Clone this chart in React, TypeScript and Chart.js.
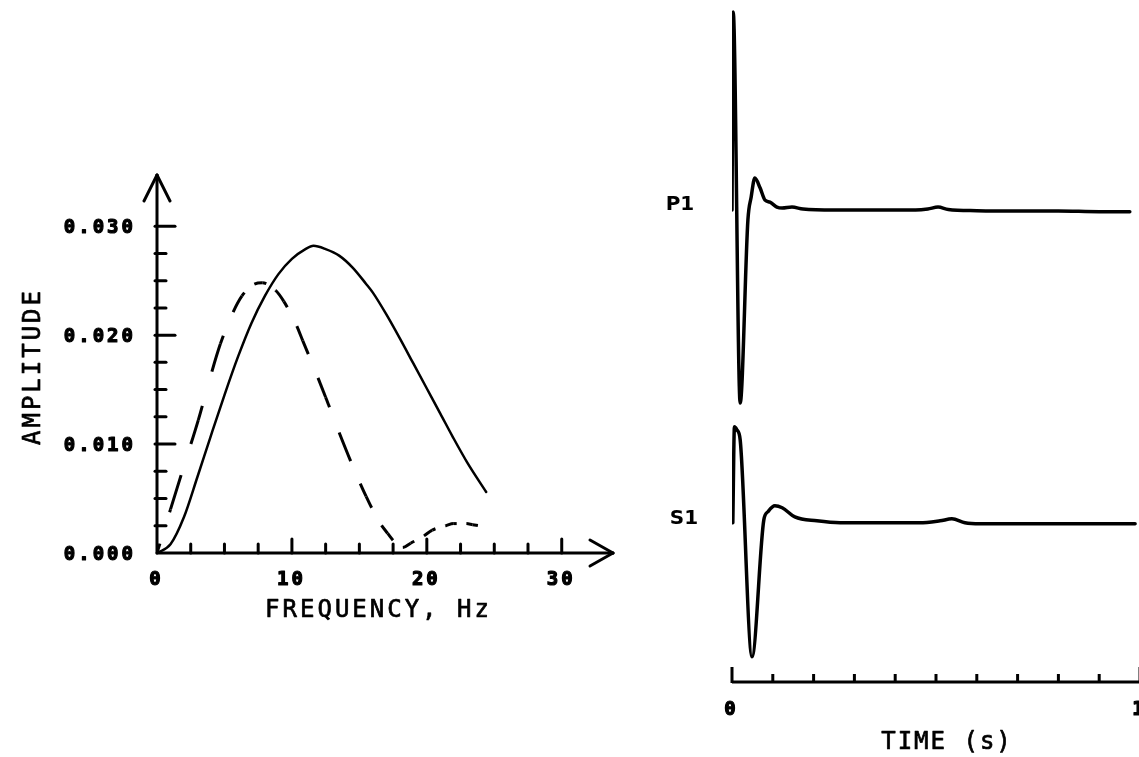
import React, { useEffect, useRef } from "react";
import { Chart, registerables } from "chart.js";

Chart.register(...registerables);

// ---- Spectrum panel: amplitude vs frequency ----
const solidFreq = [0, 1, 2, 3, 3.95, 5, 6, 7, 8, 9, 10, 11, 11.6, 12.5, 13.5, 14.5, 15.5, 16, 17, 18, 19, 20, 21, 21.95, 23, 24.4];
const solidAmp = [0, 0.0008, 0.0033, 0.007, 0.0106, 0.0145, 0.018, 0.0211, 0.0236, 0.0256, 0.027, 0.0279, 0.0282, 0.0279, 0.0273, 0.0262, 0.0247, 0.0239, 0.0219, 0.0197, 0.0174, 0.0151, 0.0128, 0.0106, 0.0083, 0.0056];

const dashFreq = [0, 1, 2, 3.06, 3.87, 4.7, 5.6, 6.3, 7.1, 7.8, 8.8, 9.4, 10.3, 10.8, 11.7, 12.5, 13.3, 14.5, 15.5, 16.5, 17.1, 17.7, 18.2, 18.8, 19.7, 20.4, 21.4, 22, 22.9, 23.4, 24.4];
const dashAmp = [0, 0.004, 0.008, 0.0122, 0.0158, 0.0192, 0.022, 0.0236, 0.0246, 0.0248, 0.0241, 0.0231, 0.021, 0.0195, 0.0168, 0.0143, 0.0117, 0.008, 0.0052, 0.0028, 0.0018, 0.0009, 0.0005, 0.0009, 0.0015, 0.0021, 0.0025, 0.0027, 0.0027, 0.0026, 0.0024];

const freqTicks = [0, 10, 20, 30];
const ampTicks = [0, 0.01, 0.02, 0.03];
const freqMinorStep = 2.5;
const ampMinorStep = 0.0025;

// ---- Trace panel: normalized amplitude vs time ----
const p1Time = [0, 0.003, 0.02, 0.039, 0.047, 0.056, 0.069, 0.081, 0.093, 0.11, 0.123, 0.147, 0.174, 0.25, 0.35, 0.45, 0.48, 0.505, 0.53, 0.6, 0.7, 0.8, 0.9, 0.975];
const p1Amp = [0, 1.0, -0.975, -0.05, 0.066, 0.162, 0.111, 0.05, 0.04, 0.015, 0.01, 0.015, 0.005, 0, 0, 0, 0.005, 0.015, 0.003, -0.003, -0.005, -0.005, -0.008, -0.008];

const s1Time = [0.002, 0.006, 0.012, 0.02, 0.049, 0.078, 0.088, 0.105, 0.123, 0.154, 0.208, 0.265, 0.46, 0.51, 0.539, 0.571, 0.608, 0.8, 0.988];
const s1Amp = [0, 0.485, 0.47, 0.42, -0.677, 0.015, 0.056, 0.086, 0.076, 0.03, 0.01, 0, 0, 0.01, 0.02, 0, -0.005, -0.005, -0.005];

const traceNames = ["P1", "S1"];
const traceOffsets = [0, -1.58];
const timeTicks = [0, 1];
const timeMinorStep = 0.1;

const MONO = '"DejaVu Sans Mono", "Liberation Mono", monospace';
const SANS = '"DejaVu Sans", "Liberation Sans", sans-serif';

// Plotter-style dashing: dashes repeat at a fixed horizontal pitch (px)
const DASH_ON = 11.5;
const DASH_PITCH = 21.2;

function drawText(
  ctx: CanvasRenderingContext2D,
  text: string,
  x: number,
  y: number,
  size: number,
  weight: string,
  family: string,
  spacing: number,
  align: "left" | "center" | "right",
  rotate = 0,
  thicken = 0
) {
  ctx.save();
  ctx.font = `${weight} ${size}px ${family}`;
  (ctx as any).letterSpacing = `${spacing}px`;
  ctx.textAlign = "left";
  ctx.textBaseline = "alphabetic";
  ctx.fillStyle = "#000";
  ctx.strokeStyle = "#000";
  const w = ctx.measureText(text).width - spacing;
  ctx.translate(x, y);
  if (rotate) ctx.rotate(rotate);
  const sx = align === "center" ? -w / 2 : align === "right" ? -w : 0;
  ctx.fillText(text, sx, size * 0.365);
  if (thicken > 0) {
    ctx.lineWidth = thicken;
    ctx.lineJoin = "round";
    ctx.strokeText(text, sx, size * 0.365);
  }
  ctx.restore();
}

function seg(ctx: CanvasRenderingContext2D, x1: number, y1: number, x2: number, y2: number) {
  ctx.beginPath();
  ctx.moveTo(x1, y1);
  ctx.lineTo(x2, y2);
  ctx.stroke();
}

const spectrumAxes = {
  id: "spectrumAxes",
  afterDatasetsDraw(chart: any) {
    const { ctx, scales } = chart;
    const x = scales.x;
    const y = scales.y;
    const x0 = x.getPixelForValue(0);
    const y0 = y.getPixelForValue(0);
    const xEnd = x.getPixelForValue(x.max);
    const yTop = y.getPixelForValue(y.max);
    ctx.save();
    ctx.strokeStyle = "#000";
    ctx.lineWidth = 3;
    ctx.lineCap = "round";
    seg(ctx, x0, y0, x0, yTop);
    seg(ctx, x0, y0, xEnd, y0);
    seg(ctx, x0, yTop, x0 - 13, yTop + 26);
    seg(ctx, x0, yTop, x0 + 13, yTop + 26);
    seg(ctx, xEnd, y0, xEnd - 23, y0 - 13);
    seg(ctx, xEnd, y0, xEnd - 23, y0 + 13);
    const ampLast = ampTicks[ampTicks.length - 1];
    for (let k = 1; k * ampMinorStep <= ampLast + 1e-9; k++) {
      const v = k * ampMinorStep;
      const py = y.getPixelForValue(v);
      const major = k % 4 === 0;
      seg(ctx, x0 - 2, py, x0 + (major ? 18 : 9), py);
    }
    const freqLast = freqTicks[freqTicks.length - 1];
    for (let k = 1; k * freqMinorStep <= freqLast + 1e-9; k++) {
      const v = k * freqMinorStep;
      const px = x.getPixelForValue(v);
      const major = k % 4 === 0;
      seg(ctx, px, y0, px, y0 - (major ? 14 : 9));
    }
    ctx.restore();

    for (const v of ampTicks) {
      drawText(ctx, v.toFixed(3), x0 - 24, y.getPixelForValue(v), 19, "bold", MONO, 3, "right", 0, 1.2);
    }
    for (const v of freqTicks) {
      drawText(ctx, String(v), x.getPixelForValue(v) - 2, y0 + 25, 19, "bold", MONO, 3, "center", 0, 1.2);
    }
    drawText(ctx, "FREQUENCY, Hz", 377, y0 + 55, 24, "normal", MONO, 3, "center", 0, 0.7);
    drawText(ctx, "AMPLITUDE", 31, 368, 24, "normal", MONO, 3, "center", -Math.PI / 2, 0.7);
  },
};

const traceAxes = {
  id: "traceAxes",
  afterDatasetsDraw(chart: any) {
    const { ctx, scales, chartArea } = chart;
    const x = scales.x;
    const y = scales.y;
    const yAxis = chartArea.bottom;
    const xa = x.getPixelForValue(timeTicks[0]);
    const xb = x.getPixelForValue(timeTicks[timeTicks.length - 1]);
    ctx.save();
    ctx.strokeStyle = "#000";
    ctx.lineWidth = 3;
    ctx.lineCap = "butt";
    seg(ctx, xa, yAxis, xb, yAxis);
    const n = Math.round((timeTicks[1] - timeTicks[0]) / timeMinorStep);
    for (let k = 0; k <= n; k++) {
      const px = x.getPixelForValue(timeTicks[0] + k * timeMinorStep);
      const tall = k === 0 || k === n;
      seg(ctx, px, yAxis + 1, px, yAxis - (tall ? 15 : 8));
    }
    ctx.restore();
    for (const v of timeTicks) {
      drawText(ctx, String(v), x.getPixelForValue(v) - 2, yAxis + 26, 19, "bold", MONO, 0, "center", 0, 1.2);
    }
    drawText(ctx, "TIME (s)", 306, yAxis + 58, 24, "normal", MONO, 2, "center", 0, 0.7);
    traceNames.forEach((name, i) => {
      drawText(ctx, name, 40 + i * 4, y.getPixelForValue(traceOffsets[i]) - 7 + i * 1, 20, "bold", SANS, 0, "center");
    });
  },
};

// Dash pattern per segment, scaled so that each dash spans a fixed horizontal width
function segRatio(c: any) {
  const dx = Math.abs(c.p1.x - c.p0.x);
  const dy = c.p1.y - c.p0.y;
  return dx > 0.01 ? Math.sqrt(dx * dx + dy * dy) / dx : 1;
}

function SpectrumChart() {
  const ref = useRef<HTMLCanvasElement>(null);
  useEffect(() => {
    let originPx = 0;
    const chart = new Chart(ref.current as HTMLCanvasElement, {
      type: "line",
      data: {
        datasets: [
          {
            data: solidFreq.map((f, i) => ({ x: f, y: solidAmp[i] })),
            borderColor: "#000",
            borderWidth: 2.5,
            pointRadius: 0,
            cubicInterpolationMode: "monotone",
            borderCapStyle: "round",
            fill: false,
          },
          {
            data: dashFreq.map((f, i) => ({ x: f, y: dashAmp[i] })),
            borderColor: "#000",
            borderWidth: 3,
            borderCapStyle: "butt",
            pointRadius: 0,
            cubicInterpolationMode: "monotone",
            fill: false,
            segment: {
              borderDash: (c: any) => {
                const r = segRatio(c);
                return [DASH_ON * r, (DASH_PITCH - DASH_ON) * r];
              },
              borderDashOffset: (c: any) => {
                const r = segRatio(c);
                const phase = (((c.p0.x - originPx) % DASH_PITCH) + DASH_PITCH) % DASH_PITCH;
                return phase * r;
              },
            },
          },
        ],
      },
      options: {
        responsive: false,
        animation: false,
        events: [],
        layout: { padding: { left: 157, right: 27, top: 175, bottom: 204 } },
        plugins: { legend: { display: false }, tooltip: { enabled: false } },
        scales: {
          x: {
            type: "linear",
            min: 0,
            max: 33.8,
            display: false,
            afterUpdate: (s: any) => {
              originPx = s.getPixelForValue(0);
            },
          },
          y: { type: "linear", min: 0, max: 0.0347, display: false },
        },
      },
      plugins: [spectrumAxes],
    } as any);
    return () => chart.destroy();
  }, []);
  return (
    <canvas
      ref={ref}
      width={640}
      height={757}
      style={{ position: "absolute", left: 0, top: 0, width: 640, height: 757 }}
    />
  );
}

function TraceChart() {
  const ref = useRef<HTMLCanvasElement>(null);
  useEffect(() => {
    const traces = [
      { t: p1Time, a: p1Amp },
      { t: s1Time, a: s1Amp },
    ];
    const chart = new Chart(ref.current as HTMLCanvasElement, {
      type: "line",
      data: {
        datasets: traces.map((tr, i) => ({
          data: tr.t.map((t, j) => ({ x: t, y: tr.a[j] + traceOffsets[i] })),
          borderColor: "#000",
          borderWidth: 3.5,
          pointRadius: 0,
          cubicInterpolationMode: "monotone",
          borderJoinStyle: "round",
          borderCapStyle: "round",
          fill: false,
        })),
      },
      options: {
        responsive: false,
        animation: false,
        events: [],
        layout: { padding: { left: 92, right: 20, top: 0, bottom: 75 } },
        plugins: { legend: { display: false }, tooltip: { enabled: false } },
        scales: {
          x: { type: "linear", min: 0, max: 1, display: false },
          y: { type: "linear", min: -2.384, max: 1.061, display: false },
        },
      },
      plugins: [traceAxes],
    } as any);
    return () => chart.destroy();
  }, []);
  return (
    <canvas
      ref={ref}
      width={520}
      height={757}
      style={{ position: "absolute", left: 640, top: 0, width: 520, height: 757 }}
    />
  );
}

export default function App() {
  return (
    <div
      style={{
        position: "absolute",
        left: 0,
        top: 0,
        width: 1139,
        height: 757,
        overflow: "hidden",
        background: "#fff",
      }}
    >
      <SpectrumChart />
      <TraceChart />
    </div>
  );
}
